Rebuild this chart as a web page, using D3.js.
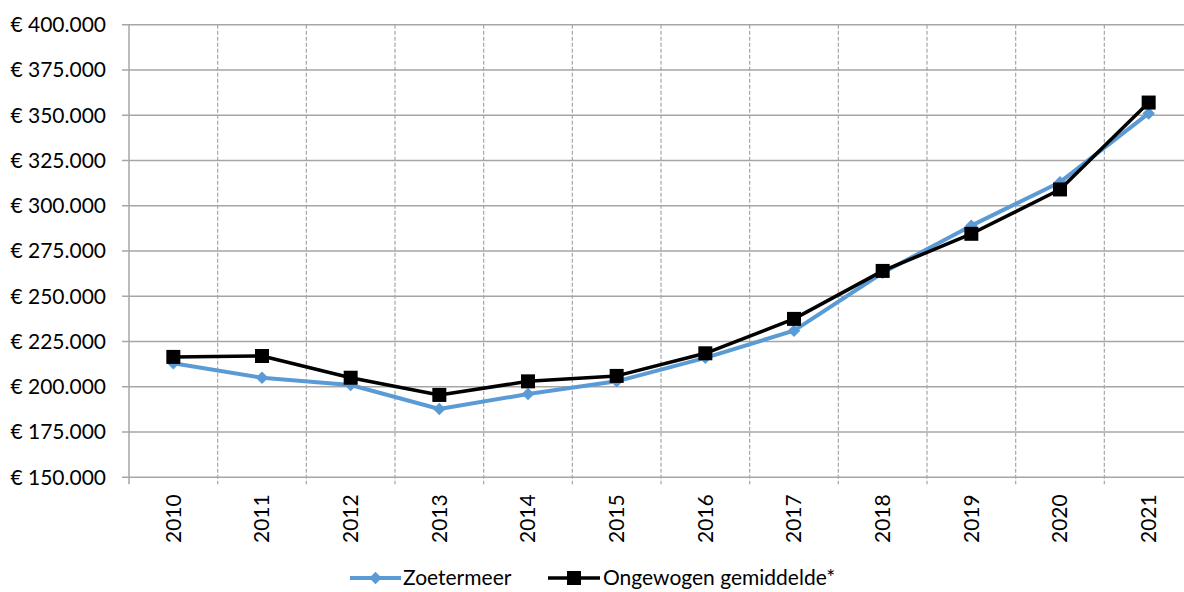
<!DOCTYPE html>
<html>
<head>
<meta charset="utf-8">
<script src="https://d3js.org/d3.v7.min.js"></script>
<style>
  body { margin: 0; background: #fff; }
  text { font-family: Lato, "Open Sans", sans-serif; fill: #000; }
</style>
</head>
<body>
<div id="chart"></div>
<script>
const years = ['2010','2011','2012','2013','2014','2015','2016','2017','2018','2019','2020','2021'];
const zoetermeer = [213000, 205000, 201000, 187700, 196000, 203000, 216000, 231000, 263000, 289000, 313000, 351000];
const ongewogen = [216500, 217000, 205000, 195500, 203000, 206000, 218500, 237500, 264000, 284500, 309000, 357000];
const yTicks = [150000, 175000, 200000, 225000, 250000, 275000, 300000, 325000, 350000, 375000, 400000];

const width = 1184, height = 592;
const plotLeft = 129, plotRight = 1193, plotTop = 24.7, plotBottom = 477.3;
const fontSize = '21px';

const svg = d3.select('#chart').append('svg')
    .attr('width', width)
    .attr('height', height);

const x = d3.scaleBand().domain(years).range([plotLeft, plotRight]);
const y = d3.scaleLinear().domain([150000, 400000]).range([plotBottom, plotTop]);

const fmt = v => '€ ' + d3.format(',')(v).replace(/,/g, '.');

// horizontal gridlines
svg.append('g')
    .selectAll('line')
    .data(yTicks)
    .enter()
    .append('line')
    .attr('x1', plotLeft - 7)
    .attr('x2', plotRight)
    .attr('y1', d => y(d))
    .attr('y2', d => y(d))
    .attr('stroke', '#a6a6a6')
    .attr('stroke-width', 1.5);

// vertical dashed gridlines
svg.append('g')
    .selectAll('line')
    .data(years.slice(1))
    .enter()
    .append('line')
    .attr('x1', d => x(d))
    .attr('x2', d => x(d))
    .attr('y1', plotTop)
    .attr('y2', plotBottom + 7)
    .attr('stroke', '#a6a6a6')
    .attr('stroke-width', 1.2)
    .attr('stroke-dasharray', '4,2');

// y axis line
svg.append('line')
    .attr('x1', plotLeft).attr('x2', plotLeft)
    .attr('y1', plotTop).attr('y2', plotBottom + 7)
    .attr('stroke', '#a6a6a6').attr('stroke-width', 1.5);

// y labels
svg.append('g')
    .selectAll('text')
    .data(yTicks)
    .enter()
    .append('text')
    .attr('x', 106)
    .attr('y', d => y(d))
    .attr('dy', '0.35em')
    .attr('text-anchor', 'end')
    .style('font-size', fontSize)
    .text(fmt);

// x labels
svg.append('g')
    .selectAll('text')
    .data(years)
    .enter()
    .append('text')
    .attr('transform', d => `translate(${x(d) + x.bandwidth() / 2},${plotBottom + 17}) rotate(-90)`)
    .attr('dy', '0.35em')
    .attr('text-anchor', 'end')
    .style('font-size', fontSize)
    .text(d => d);

const line = d3.line()
    .x((d, i) => x(years[i]) + x.bandwidth() / 2)
    .y(d => y(d));

const diamond = d3.symbol().type(d3.symbolDiamond2).size(100);

svg.append('path')
    .datum(zoetermeer)
    .attr('d', line)
    .attr('fill', 'none')
    .attr('stroke', '#5b9bd5')
    .attr('stroke-width', 4)
    .attr('stroke-linejoin', 'round');

svg.append('g')
    .selectAll('path')
    .data(zoetermeer)
    .enter()
    .append('path')
    .attr('d', diamond)
    .attr('transform', (d, i) => `translate(${x(years[i]) + x.bandwidth() / 2},${y(d)})`)
    .attr('fill', '#5b9bd5');

svg.append('path')
    .datum(ongewogen)
    .attr('d', line)
    .attr('fill', 'none')
    .attr('stroke', '#000')
    .attr('stroke-width', 3.5)
    .attr('stroke-linejoin', 'round');

svg.append('g')
    .selectAll('rect')
    .data(ongewogen)
    .enter()
    .append('rect')
    .attr('x', (d, i) => x(years[i]) + x.bandwidth() / 2 - 7)
    .attr('y', d => y(d) - 7)
    .attr('width', 14)
    .attr('height', 14)
    .attr('fill', '#000');

// legend
const legend = svg.append('g').attr('transform', 'translate(0,578)');

legend.append('line')
    .attr('x1', 350).attr('x2', 401).attr('y1', 0).attr('y2', 0)
    .attr('stroke', '#5b9bd5').attr('stroke-width', 4);
legend.append('path')
    .attr('d', diamond)
    .attr('transform', 'translate(375.5,0)')
    .attr('fill', '#5b9bd5');
legend.append('text')
    .attr('x', 403).attr('y', 0).attr('dy', '0.35em')
    .style('font-size', fontSize)
    .text('Zoetermeer');

legend.append('line')
    .attr('x1', 548).attr('x2', 600).attr('y1', 0).attr('y2', 0)
    .attr('stroke', '#000').attr('stroke-width', 3.5);
legend.append('rect')
    .attr('x', 567).attr('y', -7).attr('width', 14).attr('height', 14)
    .attr('fill', '#000');
legend.append('text')
    .attr('x', 603).attr('y', 0).attr('dy', '0.35em')
    .style('font-size', fontSize)
    .text('Ongewogen gemiddelde*');
</script>
</body>
</html>
